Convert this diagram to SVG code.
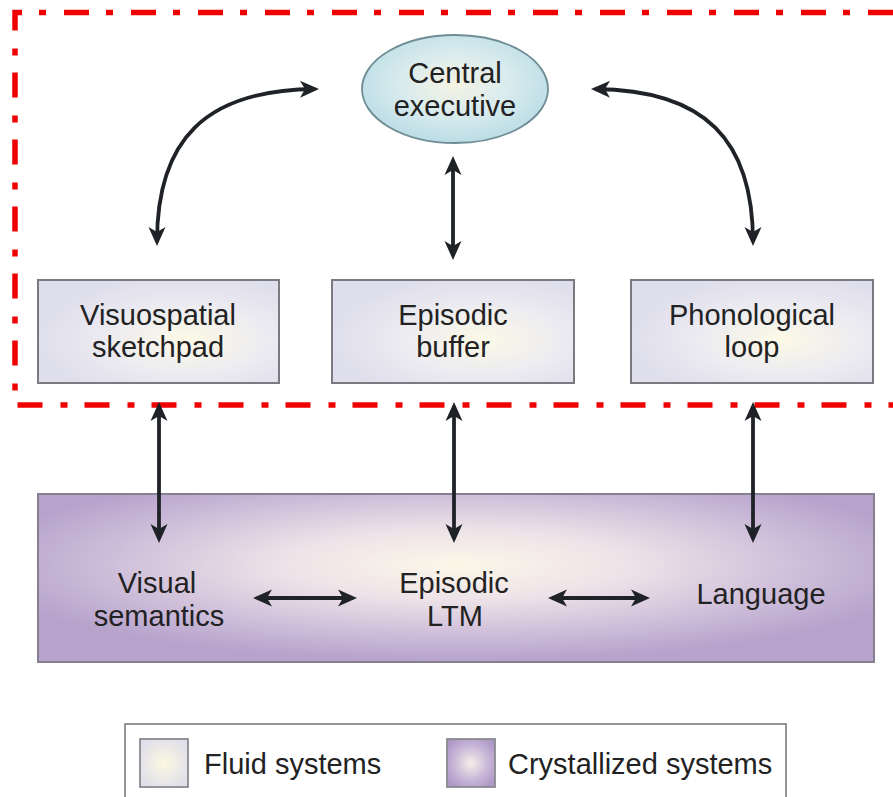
<svg xmlns="http://www.w3.org/2000/svg" width="893" height="797" viewBox="0 0 893 797">
<style>
text{font-family:"Liberation Sans",Arial,sans-serif;font-size:29px;fill:#222;text-anchor:middle}
.box{fill:url(#gFluid);stroke:#7a7a80;stroke-width:2}
.con{fill:none;stroke:#1f2226;stroke-width:3.8;marker-start:url(#ah);marker-end:url(#ah)}
</style>
<defs>
<radialGradient id="gFluid" cx="0.62" cy="0.58" r="0.62">
<stop offset="0" stop-color="#fcf9e6"/>
<stop offset="0.55" stop-color="#ecebf1"/>
<stop offset="1" stop-color="#dfdeec"/>
</radialGradient>
<radialGradient id="gCryst" cx="0.5" cy="0.42" r="0.58">
<stop offset="0" stop-color="#fcf7e8"/>
<stop offset="0.35" stop-color="#eee3e8"/>
<stop offset="0.75" stop-color="#cbbad8"/>
<stop offset="1" stop-color="#b6a2cb"/>
</radialGradient>
<radialGradient id="gExec" cx="0.5" cy="0.45" r="0.6">
<stop offset="0" stop-color="#f5f3e2"/>
<stop offset="0.5" stop-color="#d8ebee"/>
<stop offset="1" stop-color="#b6dae4"/>
</radialGradient>
<radialGradient id="gSwF" cx="0.5" cy="0.5" r="0.6">
<stop offset="0" stop-color="#fbf8e2"/>
<stop offset="1" stop-color="#dfdeea"/>
</radialGradient>
<radialGradient id="gSwC" cx="0.5" cy="0.5" r="0.6">
<stop offset="0" stop-color="#f7eee8"/>
<stop offset="0.6" stop-color="#c8b6d8"/>
<stop offset="1" stop-color="#ad98c6"/>
</radialGradient>
<marker id="ah" markerUnits="userSpaceOnUse" viewBox="-20 -10 26 20" refX="0" refY="0" markerWidth="26" markerHeight="20" orient="auto-start-reverse">
<path d="M4,0 L-15,-8.5 L-10,0 L-15,8.5 Z" fill="#1f2226"/>
</marker>
</defs>

<rect width="893" height="797" fill="#fff"/>

<g id="region">
<path d="M893,12.5 H15 V405 H893" fill="none" stroke="#f00000" stroke-width="5.5" stroke-dasharray="25 18 7 17"/>
</g>

<g id="crystallized">
<rect x="38" y="494" width="836" height="168" fill="url(#gCryst)" stroke="#858090" stroke-width="2"/>
</g>

<g id="connectors">
<path class="con" d="M157,242 C157,140 205,90 315,89"/>
<path class="con" d="M753,242 C753,140 705,90 595,89"/>
<line class="con" x1="453" y1="160" x2="453" y2="256"/>
<line class="con" x1="159" y1="406" x2="159" y2="539"/>
<line class="con" x1="454" y1="406" x2="454" y2="539"/>
<line class="con" x1="753" y1="406" x2="753" y2="539"/>
<line class="con" x1="257" y1="598" x2="353" y2="598"/>
<line class="con" x1="552" y1="598" x2="646" y2="598"/>
</g>

<g id="central-executive">
<ellipse cx="455" cy="89" rx="93" ry="54" fill="url(#gExec)" stroke="#6f8d94" stroke-width="1.8"/>
<text x="455" y="83">Central</text>
<text x="455" y="116">executive</text>
</g>

<g id="visuospatial-sketchpad">
<rect class="box" x="38" y="280" width="241" height="103"/>
<text x="158" y="325">Visuospatial</text>
<text x="158" y="357">sketchpad</text>
</g>

<g id="episodic-buffer">
<rect class="box" x="332" y="280" width="242" height="103"/>
<text x="453" y="325">Episodic</text>
<text x="453" y="357">buffer</text>
</g>

<g id="phonological-loop">
<rect class="box" x="631" y="280" width="242" height="103"/>
<text x="752" y="325">Phonological</text>
<text x="752" y="357">loop</text>
</g>

<g id="visual-semantics">
<text x="157" y="593">Visual</text>
<text x="159" y="626">semantics</text>
</g>

<g id="episodic-ltm">
<text x="454" y="593">Episodic</text>
<text x="455" y="626">LTM</text>
</g>

<g id="language">
<text x="761" y="604">Language</text>
</g>

<g id="legend">
<rect x="125" y="724" width="661" height="90" fill="#fff" stroke="#8a8a8a" stroke-width="1.8"/>
<rect x="140" y="739" width="48" height="48" fill="url(#gSwF)" stroke="#8a8a90" stroke-width="1.8"/>
<text x="204" y="774" style="text-anchor:start">Fluid systems</text>
<rect x="447" y="739" width="48" height="48" fill="url(#gSwC)" stroke="#8a8a90" stroke-width="1.8"/>
<text x="508" y="774" style="text-anchor:start">Crystallized systems</text>
</g>
</svg>
